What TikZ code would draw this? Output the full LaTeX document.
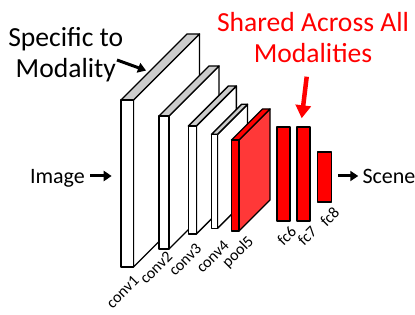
\documentclass[tikz,border=0pt]{standalone}
\usepackage{fontspec}
\setmainfont{Carlito}
\usetikzlibrary{arrows.meta}
\definecolor{topgray}{RGB}{204,204,204}
\definecolor{netred}{RGB}{255,0,0}
\definecolor{sidered}{RGB}{255,56,56}
\tikzset{
  face/.style={draw=black,line width=1.4pt,line join=round},
  layerlab/.style={font=\fontsize{16}{18}\selectfont,rotate=45,anchor=north east,inner sep=0pt},
  bigtext/.style={font=\fontsize{27.6}{31}\selectfont,align=center,inner sep=0pt},
  sidetext/.style={font=\fontsize{22}{24}\selectfont,inner sep=0pt},
  fatarrow/.style={line width=3pt,-{Triangle[length=8pt,width=10pt]}},
}

\begin{document}
\begin{tikzpicture}[x=1pt,y=-1pt]
\useasboundingbox (0,0) rectangle (415,315);
% conv and pool layers, drawn back to front
\foreach \nm/\x/\y/\w/\h/\d/\fc/\tc/\sc/\lx/\ly in {conv1/121/100/12.5/167/66/white/topgray/white/132.5/274.5,
  conv2/159/116/10/133/50/white/topgray/white/166/250,
  conv3/188.3/126/8/108/40/white/topgray/white/195/242,
  conv4/211.5/134.3/6/94/30/white/topgray/white/222.5/239,
  pool5/231.5/140/7.5/91/31/netred/netred/sidered/246.5/234.5}
{
  \draw[face,fill=\sc] (\x+\w,\y) -- ++(\d,-\d) -- ++(0,\h) -- (\x+\w,\y+\h) -- cycle;
  \draw[face,fill=\tc] (\x,\y) -- ++(\d,-\d) -- ++(\w,0) -- (\x+\w,\y) -- cycle;
  \draw[face,fill=\fc] (\x,\y) rectangle ++(\w,\h);
  \node[layerlab] (\nm) at (\lx,\ly) {\nm};
}
% fully connected layers
\foreach \nm/\x/\y/\w/\h/\lx/\ly in {fc6/277/127/13/94/289.5/225,fc7/297/127/13/94/310/225,fc8/317.5/152/14/50/332.5/206}
{
  \draw[face,fill=netred] (\x,\y) rectangle ++(\w,\h);
  \node[layerlab] (\nm) at (\lx,\ly) {\nm};
}

\node[bigtext] (spec) at (65.8,55) {Specific to\\Modality};
\node[bigtext,text=netred] (shared) at (313,38) {Shared Across All\\Modalities};
\node[sidetext,anchor=base east] (img) at (85,183.3) {Image};
\node[sidetext,anchor=base west] (scene) at (362.3,183.3) {Scene};

\coordinate (spectail) at (117,60);
\coordinate (spectip) at (146,70.5);
\coordinate (imgin) at (111.7,176);
\coordinate (sceneout) at (338.3,176);
\coordinate (sharedtail) at (306.7,76.7);
\coordinate (sharedtip) at (301.7,118.3);

\draw[fatarrow] (spectail) -- (spectip);
\draw[fatarrow,shorten <=5pt] (img.east |- imgin) -- (imgin);
\draw[fatarrow,shorten >=4pt] (sceneout) -- (scene.west |- sceneout);
\draw[netred,line width=4.5pt,-{Triangle[length=13pt,width=15pt]}] (sharedtail) -- (sharedtip);
\end{tikzpicture}
\end{document}
